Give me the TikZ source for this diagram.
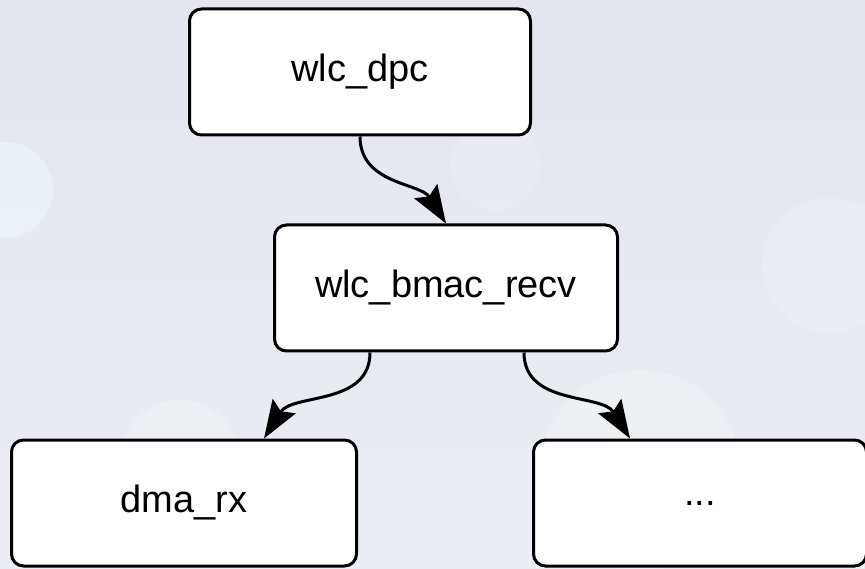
\documentclass[tikz,border=0pt]{standalone}
\usepackage{fontspec}
\setmainfont{Liberation Sans}
\usetikzlibrary{arrows.meta}
\definecolor{bgtop}{RGB}{227,230,239}
\definecolor{bgbot}{RGB}{234,237,243}
\definecolor{spot}{RGB}{236,246,251}

\tikzset{
  fn/.style={draw,line width=3pt,fill=white,rounded corners=12pt,
    minimum width=341pt,minimum height=126pt,font=\fontsize{38}{44}\selectfont},
  call/.style={line width=3pt,-{Stealth[length=38pt,width=27pt,inset=6pt]}},
  bokeh/.style={fill=white,draw=none}
}

\begin{document}
\begin{tikzpicture}[x=1pt,y=-1pt]
      \useasboundingbox (0,0) rectangle (865,569);
      \clip (0,0) rectangle (865,569);
      \shade[top color=bgtop,bottom color=bgbot] (0,0) rectangle (865,569);

      % soft light spots behind the boxes
      \fill[bokeh,fill=spot,opacity=.7] (5,190) circle (48);
      \fill[bokeh,opacity=.15] (495,165) circle (45);
      \fill[bokeh,opacity=.15] (830,265) circle (68);
      \fill[bokeh,opacity=.2] (640,470) circle (100);
      \fill[bokeh,opacity=.2] (180,460) circle (60);

      \node (dpc) at (360,72) [fn] {wlc\_dpc};
      \node (recv) at (446,288) [fn,minimum width=343pt] {wlc\_bmac\_recv};
      \node (dma) at (184,503) [fn,minimum width=345pt] {dma\_rx};
      \node (dots) at (700,503) [fn,minimum width=333pt] {...};

      \draw[call] (dpc.south) to [out=-90,in=122] (recv.north);
      \draw[call] ([xshift=-76pt]recv.south) to [out=-90,in=58] ([xshift=80pt]dma.north);
      \draw[call] ([xshift=78pt]recv.south) to [out=-90,in=122] ([xshift=-70pt]dots.north);

    \end{tikzpicture}
\end{document}
